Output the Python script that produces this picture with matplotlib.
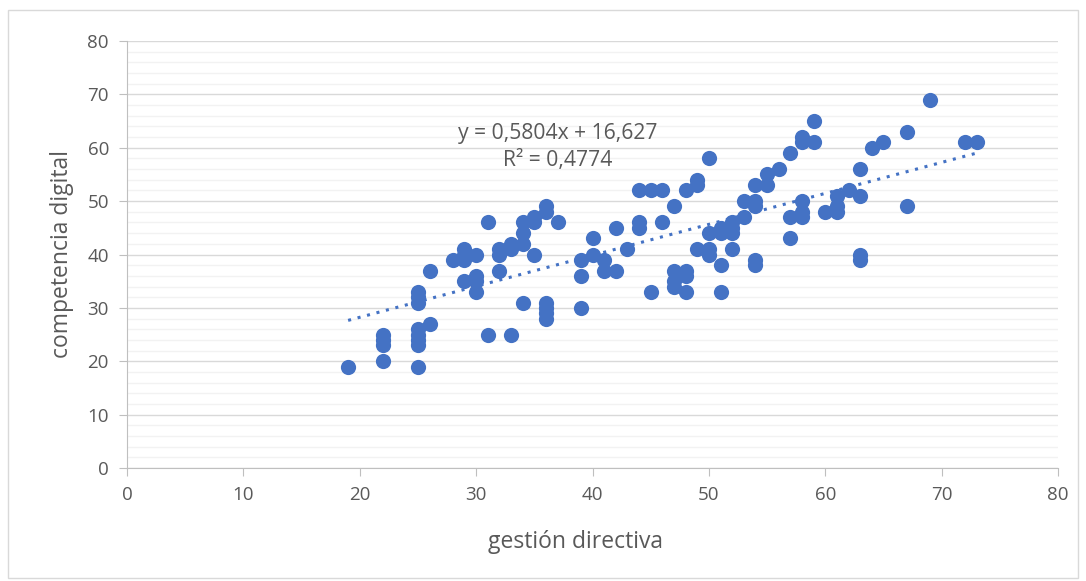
import matplotlib
matplotlib.use("Agg")
import matplotlib.pyplot as plt
import numpy as np
from matplotlib.ticker import MultipleLocator
from matplotlib.patches import Rectangle

gestion = [19,
           22, 22, 22, 22,
           25, 25, 25, 25, 25, 25, 25, 25,
           26, 26, 28,
           29, 29, 29, 29,
           30, 30, 30, 30,
           31, 31, 32, 32, 32,
           33, 33, 33,
           34, 34, 34, 34,
           35, 35, 35,
           36, 36, 36, 36, 36, 36,
           37,
           39, 39, 39,
           40, 40, 41, 41, 42, 42, 43,
           44, 44, 44, 45, 45, 46, 46,
           47, 47, 47, 47,
           48, 48, 48, 48,
           49, 49, 49,
           50, 50, 50, 50,
           51, 51, 51, 51,
           52, 52, 52, 52,
           53, 53,
           54, 54, 54, 54, 54,
           55, 55, 56,
           57, 57, 57,
           58, 58, 58, 58, 58,
           59, 59, 60,
           61, 61, 61, 62,
           63, 63, 63, 63,
           64, 65, 67, 67, 69, 72, 73]
competencia = [19,
               25, 24, 23, 20,
               33, 32, 31, 26, 25, 24, 23, 19,
               37, 27, 39,
               41, 40, 39, 35,
               40, 36, 35, 33,
               46, 25, 41, 40, 37,
               42, 41, 25,
               46, 44, 42, 31,
               47, 46, 40,
               49, 48, 31, 30, 29, 28,
               46,
               39, 36, 30,
               43, 40, 39, 37, 45, 37, 41,
               52, 46, 45, 52, 33, 52, 46,
               49, 37, 35, 34,
               52, 37, 36, 33,
               54, 53, 41,
               58, 44, 41, 40,
               45, 44, 38, 33,
               46, 45, 44, 41,
               50, 47,
               53, 50, 49, 39, 38,
               55, 53, 56,
               59, 47, 43,
               62, 61, 50, 48, 47,
               65, 61, 48,
               51, 49, 48, 52,
               56, 51, 40, 39,
               60, 61, 63, 49, 69, 61, 61]

slope, intercept = 0.5804, 16.627
eq_text = "y = 0,5804x + 16,627"
r2_text = "R² = 0,4774"

plt.rcParams['font.family'] = ['Open Sans', 'DejaVu Sans']
txt = '#595959'
blue = '#4472C4'

fig = plt.figure(figsize=(10.86, 5.81), dpi=100)
fig.patches.append(Rectangle((8/1086, 3/581), 1070/1086, 568/581, transform=fig.transFigure,
                             fill=False, edgecolor='#d9d9d9', linewidth=1))
ax = fig.add_axes([127/1086, 1-468/581, 931/1086, 427/581])

ax.set_xlim(0, 80)
ax.set_ylim(0, 80)
ax.xaxis.set_major_locator(MultipleLocator(10))
ax.yaxis.set_major_locator(MultipleLocator(10))
ax.yaxis.set_minor_locator(MultipleLocator(2))
ax.grid(which='major', axis='y', color='#d9d9d9', linewidth=1)
ax.grid(which='minor', axis='y', color='#f2f2f2', linewidth=1)
ax.set_axisbelow(True)
for s in ['top', 'right']:
    ax.spines[s].set_visible(False)
for s in ['left', 'bottom']:
    ax.spines[s].set_color('#bfbfbf')
ax.tick_params(which='major', length=6, color='#bfbfbf', labelcolor=txt, labelsize=13.5, pad=7)
ax.tick_params(which='minor', length=0)

ax.scatter(gestion, competencia, s=120, color=blue, zorder=3, linewidths=0)

xs = np.array([min(gestion), max(gestion)])
ax.plot(xs, slope*xs + intercept, linestyle=(0, (1, 2.2)), color=blue, linewidth=2.2, zorder=2)

ax.text(37.0, 62.7, eq_text, ha='center', va='center', fontsize=15.2, color=txt)
ax.text(37.0, 57.7, r2_text, ha='center', va='center', fontsize=15.2, color=txt)

ax.set_xlabel('gestión directiva', fontsize=16.5, color=txt)
ax.set_ylabel('competencia digital', fontsize=16.5, color=txt, labelpad=10)
ax.xaxis.set_label_coords(0.482, -0.145)

fig.savefig('out.png', dpi=100)
